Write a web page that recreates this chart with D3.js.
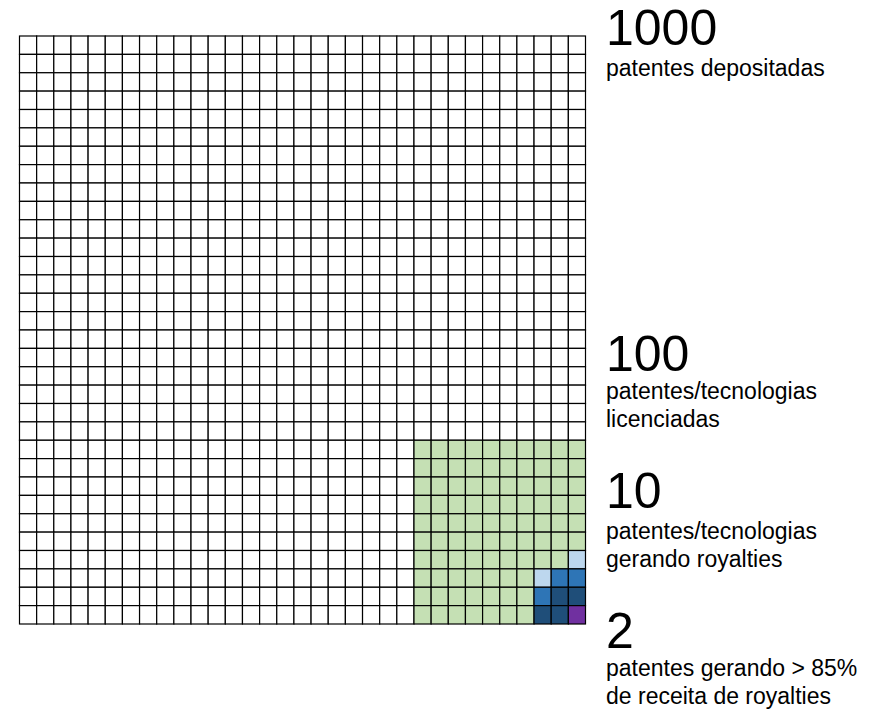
<!DOCTYPE html>
<html>
<head>
<meta charset="utf-8">
<script src="https://cdn.jsdelivr.net/npm/d3@7"></script>
<style>
  html, body { margin: 0; padding: 0; background: #fff; }
  svg { display: block; }
  text { font-family: "Liberation Sans", Arial, Helvetica, sans-serif; fill: #000; }
</style>
</head>
<body>
<svg id="chart" width="883" height="711"></svg>
<script>
// ---- data ----
const gridCols = 33;
const gridRows = 32;
const licensedSide = 10;               // 10 x 10 block = 100 licensed
// royalty-generating cells: column offset from right, row offset from bottom, tier
const royaltyCol  = [0, 2, 1, 0, 2, 1, 0, 2, 1, 0];
const royaltyRow  = [3, 2, 2, 2, 1, 1, 1, 0, 0, 0];
const royaltyTier = ["light", "light", "mid", "mid", "mid", "dark", "dark", "dark", "dark", "top"];
const tierColors = { light: "#bdd7ee", mid: "#2e75b6", dark: "#1f4e79", top: "#7030a0" };
const licensedColor = "#c5e0b4";
const stageNumbers = ["1000", "100", "10", "2"];
const stageLabels = [
  ["patentes depositadas"],
  ["patentes/tecnologias", "licenciadas"],
  ["patentes/tecnologias", "gerando royalties"],
  ["patentes gerando > 85%", "de receita de royalties"]
];
const stageNumberBaseline = [45, 371, 508, 648];
const stageLabelBaseline = [76, 399, 539, 676];

// ---- layout ----
const svg = d3.select("#chart");
const gx0 = 19.5, gx1 = 585.5, gy0 = 36, gy1 = 624;

const x = d3.scaleBand().domain(d3.range(gridCols)).range([gx0, gx1]).padding(0);
const y = d3.scaleBand().domain(d3.range(gridRows)).range([gy0, gy1]).padding(0);

const cells = [];
for (let r = 0; r < gridRows; r++) {
  for (let c = 0; c < gridCols; c++) {
    const fromRight = gridCols - 1 - c;
    const fromBottom = gridRows - 1 - r;
    let fill = "#ffffff";
    if (fromRight < licensedSide && fromBottom < licensedSide) fill = licensedColor;
    cells.push({ r, c, fromRight, fromBottom, fill });
  }
}
royaltyCol.forEach((cr, i) => {
  const rb = royaltyRow[i];
  const cell = cells.find(d => d.fromRight === cr && d.fromBottom === rb);
  if (cell) cell.fill = tierColors[royaltyTier[i]];
});

svg.append("g")
  .selectAll("rect")
  .data(cells)
  .join("rect")
  .attr("x", d => x(d.c))
  .attr("y", d => y(d.r))
  .attr("width", x.bandwidth())
  .attr("height", y.bandwidth())
  .attr("fill", d => d.fill)
  .attr("stroke", "#000")
  .attr("stroke-width", 1.2);

// ---- annotations ----
const tx = 606;
const ann = svg.append("g");
stageNumbers.forEach((num, i) => {
  ann.append("text")
    .attr("x", tx).attr("y", stageNumberBaseline[i])
    .attr("font-size", 50)
    .text(num);
  stageLabels[i].forEach((line, j) => {
    ann.append("text")
      .attr("x", tx).attr("y", stageLabelBaseline[i] + j * 28)
      .attr("font-size", 23)
      .text(line);
  });
});
</script>
</body>
</html>
